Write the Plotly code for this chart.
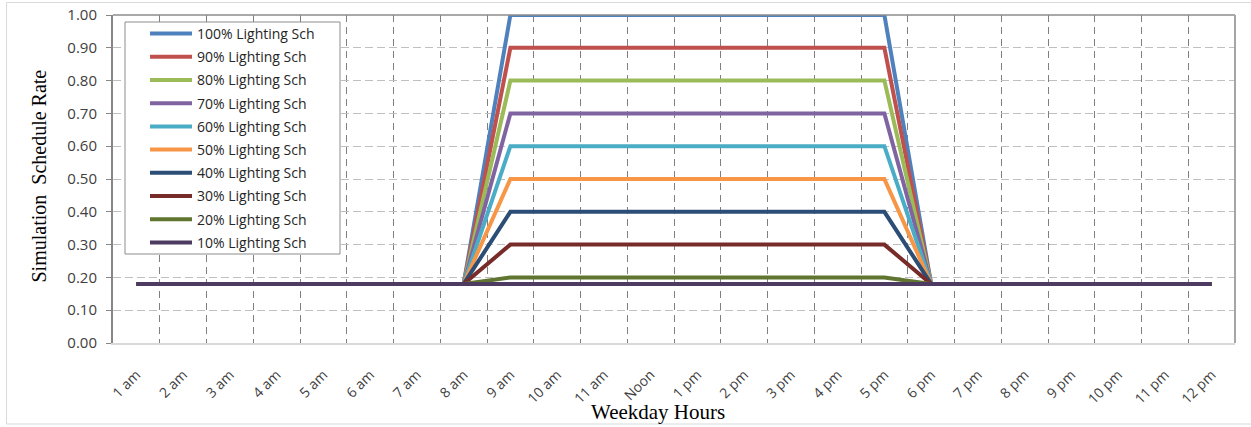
import plotly.graph_objects as go

# Weekday hour categories
hours = ["1 am", "2 am", "3 am", "4 am", "5 am", "6 am", "7 am", "8 am",
         "9 am", "10 am", "11 am", "Noon", "1 pm", "2 pm", "3 pm", "4 pm",
         "5 pm", "6 pm", "7 pm", "8 pm", "9 pm", "10 pm", "11 pm", "12 pm"]

# Lighting schedule rates (fraction of full load) per hour
sch_100 = [0.18] * 8 + [1.00] * 9 + [0.18] * 7
sch_90 = [0.18] * 8 + [0.90] * 9 + [0.18] * 7
sch_80 = [0.18] * 8 + [0.80] * 9 + [0.18] * 7
sch_70 = [0.18] * 8 + [0.70] * 9 + [0.18] * 7
sch_60 = [0.18] * 8 + [0.60] * 9 + [0.18] * 7
sch_50 = [0.18] * 8 + [0.50] * 9 + [0.18] * 7
sch_40 = [0.18] * 8 + [0.40] * 9 + [0.18] * 7
sch_30 = [0.18] * 8 + [0.30] * 9 + [0.18] * 7
sch_20 = [0.18] * 8 + [0.20] * 9 + [0.18] * 7
sch_10 = [0.18] * 8 + [0.18] * 9 + [0.18] * 7

series_names = ["100% Lighting Sch", "90% Lighting Sch", "80% Lighting Sch",
                "70% Lighting Sch", "60% Lighting Sch", "50% Lighting Sch",
                "40% Lighting Sch", "30% Lighting Sch", "20% Lighting Sch",
                "10% Lighting Sch"]
series_values = [sch_100, sch_90, sch_80, sch_70, sch_60,
                 sch_50, sch_40, sch_30, sch_20, sch_10]
series_colors = ["#4F81BD", "#C0504D", "#9BBB59", "#8064A2", "#4BACC6",
                 "#F79646", "#2C4D75", "#772C2A", "#5F7530", "#4D3B62"]

y_ticks = [0.0, 0.1, 0.2, 0.3, 0.4, 0.5, 0.6, 0.7, 0.8, 0.9, 1.0]

fig = go.Figure()
for name, vals, col in zip(series_names, series_values, series_colors):
    fig.add_trace(go.Scatter(
        x=hours, y=vals, name=name, mode="lines", legendgroup=name,
        line=dict(color=col, width=4),
    ))

W, H = 1251, 427
L, R, T, B = 113, 16, 15, 84
pw, ph = W - L - R, H - T - B


def px_x(p):
    return (p - L) / pw


def px_y(p):
    return (H - B - p) / ph


fig.update_layout(
    width=W, height=H, autosize=False,
    margin=dict(l=L, r=R, t=T, b=B, pad=0, autoexpand=False),
    paper_bgcolor="white", plot_bgcolor="white",
    showlegend=True,
    legend=dict(
        x=px_x(145), y=px_y(18), xanchor="left", yanchor="top",
        bgcolor="rgba(0,0,0,0)", borderwidth=0,
        font=dict(family="Open Sans", size=14, color="#262626"),
        tracegroupgap=2, itemwidth=42,
    ),
    xaxis=dict(
        type="category", range=[-0.5, 23.5], tickson="boundaries",
        automargin=False,
        showgrid=True, gridcolor="#7F7F7F", griddash="7px,5px", gridwidth=1,
        showline=True, linecolor="#D9D9D9", linewidth=2,
        ticks="", tickangle=-45, ticklabelstandoff=16,
        tickfont=dict(family="Open Sans", size=14, color="#404040"),
        zeroline=False,
    ),
    yaxis=dict(
        range=[0, 1.0], tickvals=y_ticks, tickformat=".2f",
        automargin=False,
        showgrid=True, gridcolor="#BFBFBF", griddash="8px,4px", gridwidth=1,
        showline=True, linecolor="#868686", linewidth=2,
        ticks="outside", ticklen=5, tickcolor="#868686",
        ticklabelstandoff=6,
        tickfont=dict(family="Open Sans", size=15, color="#404040"),
        zeroline=False,
    ),
    shapes=[
        # chart outline
        dict(type="rect", xref="paper", yref="paper",
             x0=px_x(6.5), x1=px_x(1256), y0=px_y(424), y1=px_y(2.5),
             line=dict(color="#D9D9D9", width=1), layer="below"),
        # plot area top and right edges
        dict(type="line", xref="paper", yref="paper",
             x0=0, x1=1, y0=1, y1=1, line=dict(color="#8C8C8C", width=1.5)),
        dict(type="line", xref="paper", yref="paper",
             x0=1, x1=1, y0=0, y1=1, line=dict(color="#A6A6A6", width=2)),
        # legend frame
        dict(type="rect", xref="paper", yref="paper",
             x0=px_x(125), x1=px_x(340), y0=px_y(254), y1=px_y(22),
             fillcolor="white", line=dict(color="#8C8C8C", width=1),
             layer="above"),
    ],
    annotations=[
        dict(text="Simulation  Schedule Rate", xref="paper", yref="paper",
             x=px_x(38), y=px_y(176.5), textangle=-90, showarrow=False,
             xanchor="center", yanchor="middle",
             font=dict(family="Liberation Serif", size=20, color="black")),
        dict(text="Weekday Hours", xref="paper", yref="paper",
             x=px_x(658), y=px_y(412), showarrow=False,
             xanchor="center", yanchor="middle",
             font=dict(family="Liberation Serif", size=21, color="black")),
    ],
)

fig.write_html("out.html")
